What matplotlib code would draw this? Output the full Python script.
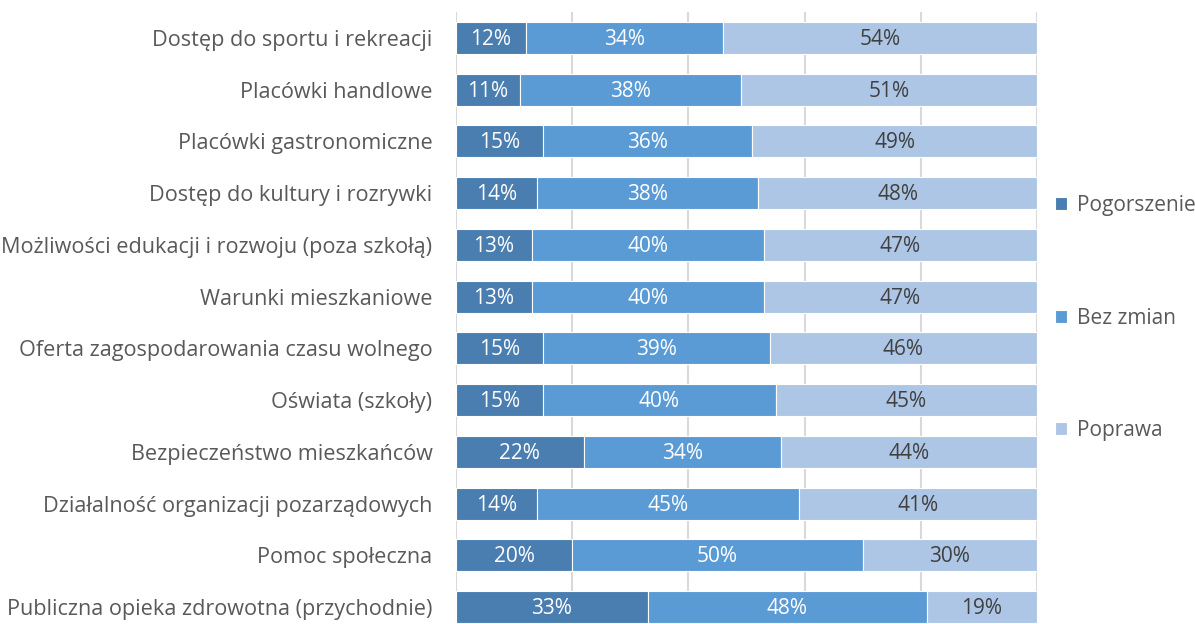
import matplotlib
matplotlib.use('Agg')
import numpy as np
from matplotlib import pyplot as plt

plt.rcParams['font.family'] = ['Open Sans', 'DejaVu Sans']

categories = ['Dostęp do sportu i rekreacji', 'Placówki handlowe', 'Placówki gastronomiczne',
              'Dostęp do kultury i rozrywki', 'Możliwości edukacji i rozwoju (poza szkołą)',
              'Warunki mieszkaniowe', 'Oferta zagospodarowania czasu wolnego', 'Oświata (szkoły)',
              'Bezpieczeństwo mieszkańców', 'Działalność organizacji pozarządowych',
              'Pomoc społeczna', 'Publiczna opieka zdrowotna (przychodnie)']
pogorszenie = [12, 11, 15, 14, 13, 13, 15, 15, 22, 14, 20, 33]
bez_zmian = [34, 38, 36, 38, 40, 40, 39, 40, 34, 45, 50, 48]
poprawa = [54, 51, 49, 48, 47, 47, 46, 45, 44, 41, 30, 19]

series = [('Pogorszenie', pogorszenie, '#4a7eb0', 'white'),
          ('Bez zmian', bez_zmian, '#5b9bd5', 'white'),
          ('Poprawa', poprawa, '#adc6e5', '#404040')]

fig = plt.figure(figsize=(11.95, 6.24), dpi=100)
ax = fig.add_axes([456/1195, -9/624, 581/1195, 621/624])

y = np.arange(len(categories))
left = np.zeros(len(categories))
for name, vals, col, tcol in series:
    vals = np.array(vals, dtype=float)
    ax.barh(y, vals, left=left, height=0.62, color=col, edgecolor='white',
            linewidth=0.8, label=name, zorder=3)
    for yi, l, v in zip(y, left, vals):
        ax.text(l + v / 2, yi + 0.03, f'{int(v)}%', ha='center', va='center', color=tcol,
                fontsize=15, zorder=4)
    left += vals

ax.set_xlim(0, 100)
ax.set_ylim(len(categories) - 0.5, -0.5)
ax.set_yticks(y)
ax.set_yticklabels(categories, fontsize=15.6, color='#595959')
ax.tick_params(axis='y', length=0, pad=17)
ax.set_xticks([0, 20, 40, 60, 80, 100])
ax.tick_params(axis='x', length=0, labelbottom=False)
ax.grid(axis='x', color='#d9d9d9', linewidth=1.5, zorder=0)
for s in ax.spines.values():
    s.set_visible(False)

leg = fig.legend(loc='center left', bbox_to_anchor=(1036/1195, (624-318)/624), frameon=False,
                 fontsize=15, labelspacing=4.4, handlelength=0.6, handleheight=0.6,
                 handletextpad=0.45, labelcolor='#595959')

fig.savefig('out.png', dpi=100)
